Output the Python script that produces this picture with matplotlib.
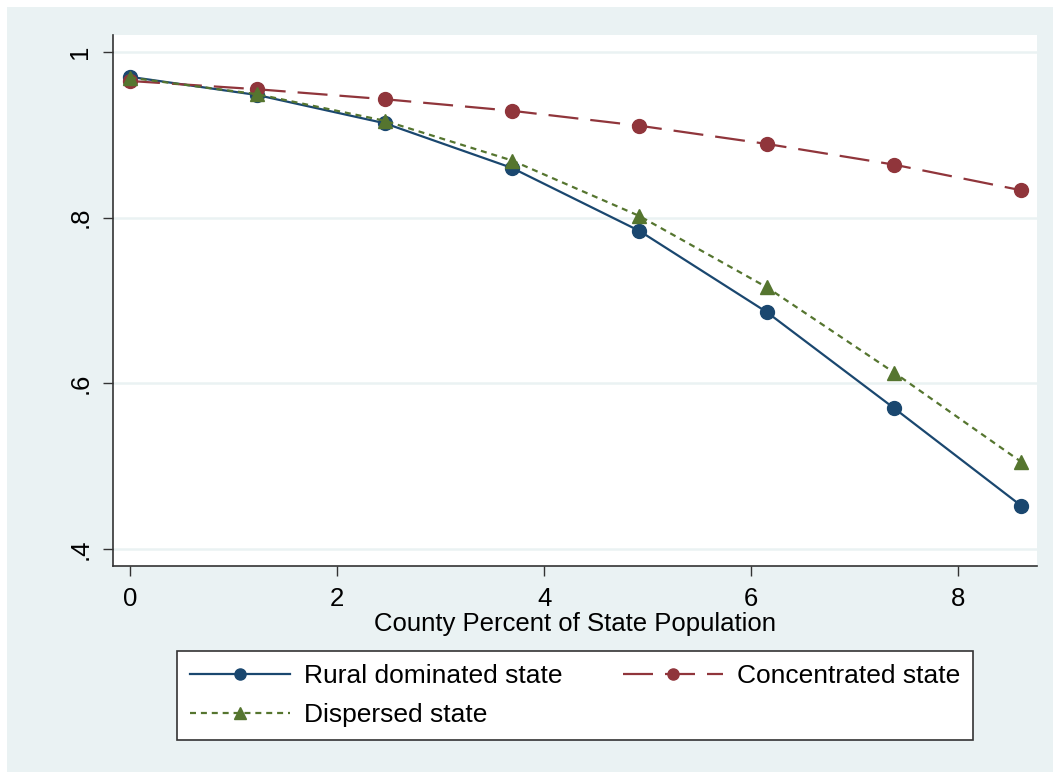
import matplotlib.pyplot as plt
from matplotlib.patches import Rectangle

plt.rcParams['font.family'] = ['Liberation Sans', 'DejaVu Sans']

# data
county_pct = [0, 1.23, 2.46, 3.69, 4.92, 6.15, 7.38, 8.61]
rural = [0.970, 0.948, 0.914, 0.860, 0.784, 0.686, 0.570, 0.452]
concentrated = [0.965, 0.955, 0.943, 0.929, 0.911, 0.889, 0.864, 0.833]
dispersed = [0.969, 0.949, 0.917, 0.869, 0.802, 0.716, 0.613, 0.505]

y_ticks = [0.4, 0.6, 0.8, 1.0]
y_labels = ['.4', '.6', '.8', '1']
x_ticks = [0, 2, 4, 6, 8]

navy = '#1a476f'
maroon = '#90353b'
green = '#55752f'
bg = '#eaf2f3'

W, H = 1053, 772
fig = plt.figure(figsize=(W / 100, H / 100), dpi=100, facecolor='white')
# stata style gray frame
fig.patches.append(Rectangle((7 / W, 0), 1 - 7 / W, 1 - 7 / H,
                             transform=fig.transFigure, facecolor=bg,
                             edgecolor='none', zorder=-10))

ax = fig.add_axes([113 / W, 1 - 566 / H, (1037 - 113) / W, (566 - 35) / H])
ax.set_facecolor('white')

l1, = ax.plot(county_pct, rural, color=navy, lw=1.6, marker='o', ms=10,
              label='Rural dominated state', zorder=3)
l2, = ax.plot(county_pct, concentrated, color=maroon, lw=1.6, marker='o', ms=10,
              dashes=(13.5, 5.4), label='Concentrated state', zorder=3)
l3, = ax.plot(county_pct, dispersed, color=green, lw=1.6, marker='^', ms=10,
              dashes=(2.7, 2.2), label='Dispersed state', zorder=3)

ax.set_xlim(-0.164, 8.76)
ax.set_ylim(0.3795, 1.0205)
ax.set_xticks(x_ticks)
ax.set_yticks(y_ticks)
ax.set_yticklabels(y_labels, rotation=90, va='center')
ax.tick_params(labelsize=18.5, length=7, width=1, color='#333333', pad=8)
ax.grid(axis='y', color=bg, lw=1.8, zorder=0)
ax.set_axisbelow(True)

for s in ['top', 'right']:
    ax.spines[s].set_visible(False)
for s in ['left', 'bottom']:
    ax.spines[s].set_color('#333333')
    ax.spines[s].set_linewidth(1.2)

ax.set_xlabel('County Percent of State Population', fontsize=18.5, labelpad=1)

leg = fig.legend([l1, l3, l2],
                 ['Rural dominated state', 'Dispersed state', 'Concentrated state'],
                 ncol=2, loc='lower left', mode='expand', borderaxespad=0,
                 bbox_to_anchor=(177 / W, 1 - 740 / H, (973 - 177) / W, (740 - 653) / H),
                 fontsize=19, frameon=True, fancybox=False, edgecolor='#333333',
                 facecolor='white', framealpha=1, markerscale=0.8,
                 handlelength=3.8, handletextpad=0.5, borderpad=0.5, labelspacing=0.55)
leg.get_frame().set_linewidth(1.2)

fig.savefig('out.png', dpi=100, facecolor=fig.get_facecolor())
